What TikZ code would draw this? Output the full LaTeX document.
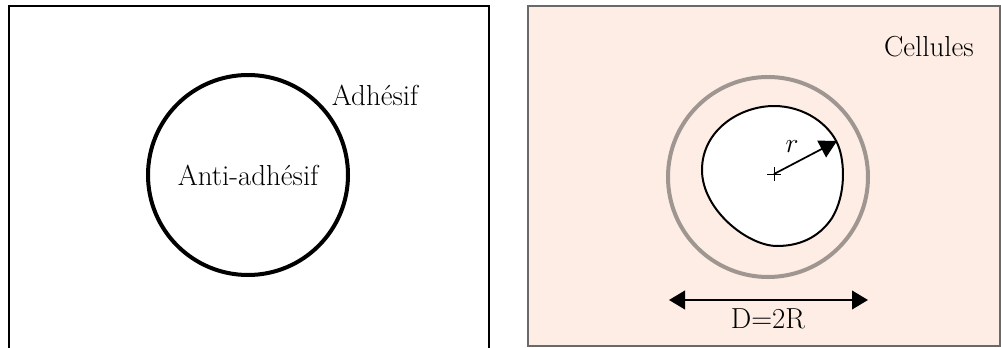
\documentclass[tikz,border=0pt]{standalone}
\usetikzlibrary{arrows.meta,calc}
\definecolor{peach}{RGB}{254,237,228}
\definecolor{ringgray}{RGB}{160,150,145}
\definecolor{boxgray}{RGB}{105,105,105}
\begin{document}
\begin{tikzpicture}[x=0.75pt,y=-0.75pt,
  lbl/.style={inner sep=0pt,font=\fontsize{21.7}{25}\selectfont},
  bigtip/.style={-{Triangle[length=13pt,width=14pt]}},
  dbltip/.style={{Triangle[length=12pt,width=14pt]}-{Triangle[length=12pt,width=14pt]}}]
\clip (0,0) rectangle (1001,347);
\fill[white] (0,0) rectangle (1001,347);
% left panel
\draw[line width=1.1pt,black] (9,360) -- (9,6) -- (489,6) -- (489,360);
\node[circle,draw,line width=3pt,minimum size=200*0.75pt,inner sep=0pt] (hole) at (248,175) {};
\node[lbl] (anti) at (248,175) {Anti-adh\'esif};
\node[lbl] (adh) at (375,95) {Adh\'esif};
% right panel
\draw[line width=1.1pt,draw=boxgray,fill=peach] (528,6) rectangle (1000,346);
\node[lbl] (cel) at (929,47) {Cellules};
\node[circle,draw=ringgray,line width=3pt,minimum size=200*0.75pt,inner sep=0pt] (ring) at (768,177) {};
\draw[line width=1.5pt,fill=white] (774,106) .. controls (805,106) and (830,125) .. (838,145)
  .. controls (845,162) and (846,195) .. (832,218)
  .. controls (822,233) and (805,246) .. (777,246)
  .. controls (748,246) and (702,210) .. (702,170)
  .. controls (702,130) and (740,106) .. (774,106) -- cycle;
\coordinate (ctr) at (774,174);
\coordinate (edge) at (837,141);
\draw[line width=0.6pt] ($(ctr)+(-7,0)$) -- ($(ctr)+(7,0)$) ($(ctr)+(0,-7)$) -- ($(ctr)+(0,7)$);
\draw[bigtip,line width=1.3pt] (ctr) -- (edge);
\node[lbl] (rlab) at (792,147) {$r$};
\coordinate (dl) at (669,300);
\coordinate (dr) at (868,300);
\draw[dbltip,line width=1.5pt] (dl) -- (dr);
\node[lbl] (dlab) at (768,319) {D=2R};
\end{tikzpicture}
\end{document}
